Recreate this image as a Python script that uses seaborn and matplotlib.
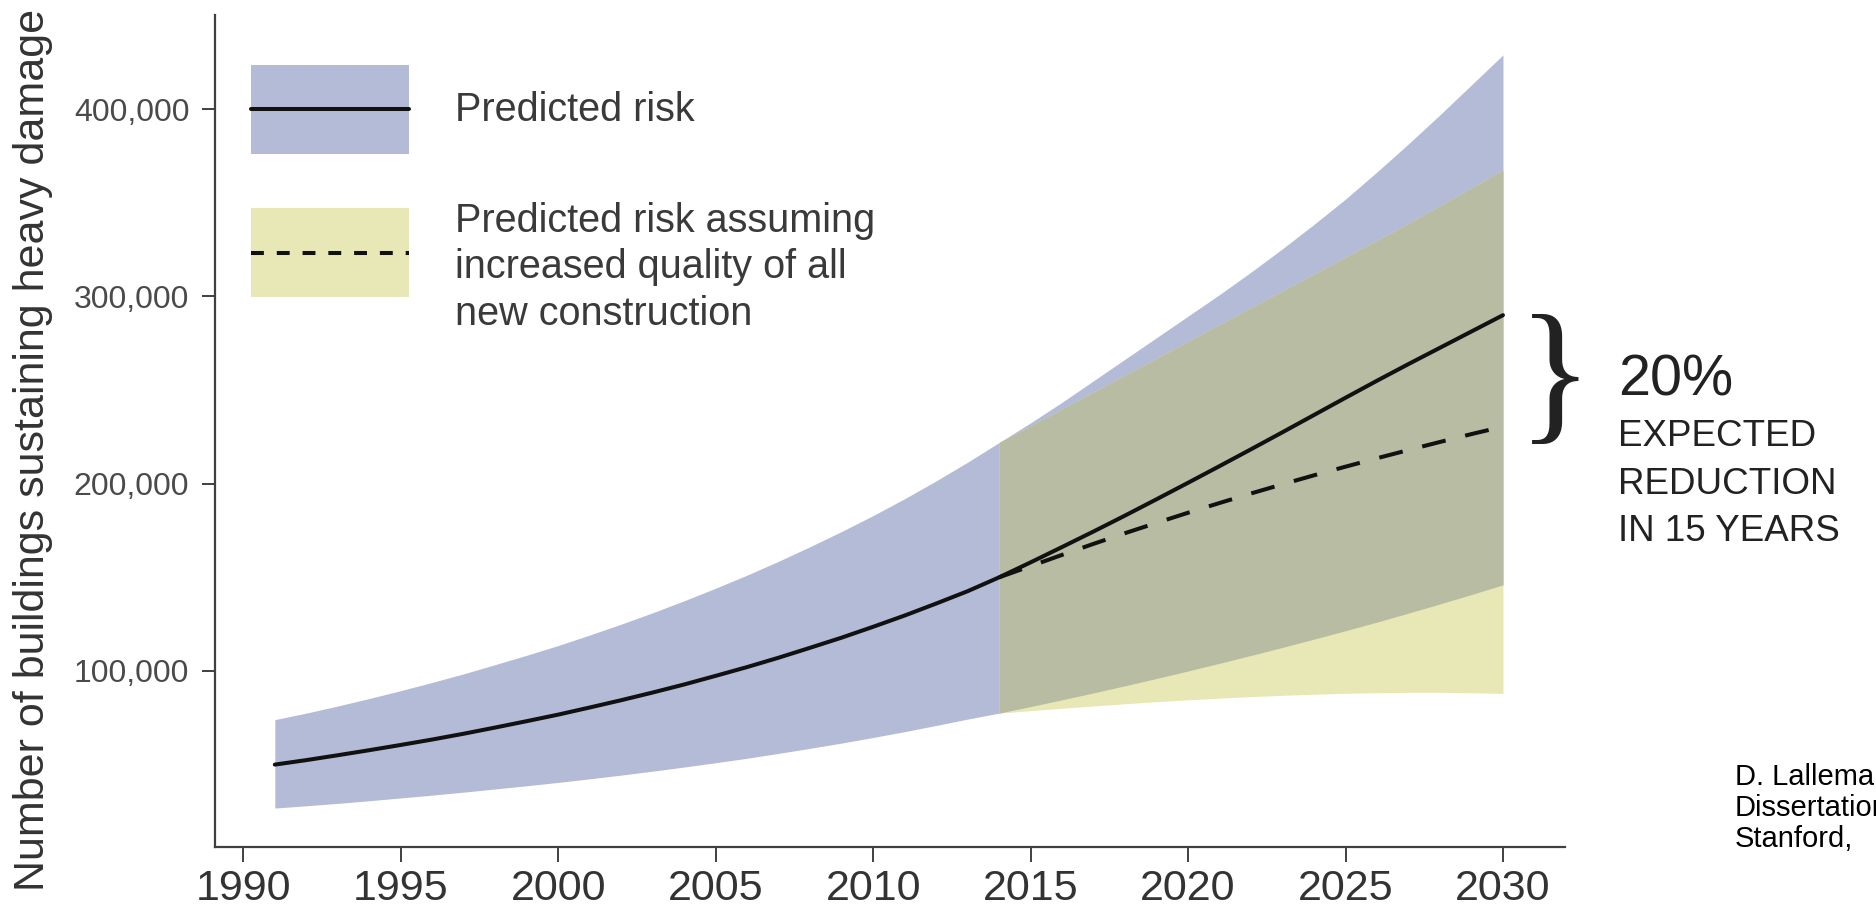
import numpy as np
import pandas as pd
import matplotlib
matplotlib.use("Agg")
import matplotlib.pyplot as plt
import seaborn as sns
from matplotlib.patches import Patch
from matplotlib.lines import Line2D
from matplotlib.legend_handler import HandlerLine2D
from matplotlib.ticker import FuncFormatter

# Predicted number of heavily damaged buildings, thousands
years = list(range(1991, 2031))
risk_mean = [50.0, 52.4, 55.0, 57.7, 60.5, 63.4, 66.5, 69.8, 73.2, 76.7,
             80.5, 84.4, 88.5, 92.8, 97.4, 102.1, 107.1, 112.4, 117.8, 123.6,
             129.6, 136.0, 142.6, 150.0, 158.0, 166.2, 174.5, 183.0, 191.7, 200.5,
             209.4, 218.4, 227.5, 236.7, 245.9, 255.0, 263.9, 272.6, 281.3, 290.0]
risk_low = [26.8, 28.0, 29.3, 30.7, 32.2, 33.7, 35.3, 37.0, 38.7, 40.5,
            42.4, 44.4, 46.5, 48.7, 51.0, 53.4, 56.0, 58.7, 61.5, 64.5,
            67.6, 70.9, 74.3, 77.5, 81.0, 84.6, 88.3, 92.1, 96.0, 100.0,
            104.1, 108.3, 112.6, 117.0, 121.5, 126.1, 130.9, 135.8, 140.8, 146.0]
risk_high = [74.0, 77.5, 81.3, 85.3, 89.5, 93.9, 98.5, 103.4, 108.4, 113.6,
             119.2, 125.0, 131.1, 137.5, 144.2, 151.2, 158.6, 166.4, 174.5, 183.0,
             192.0, 201.5, 211.5, 222.0, 232.5, 243.5, 255.0, 266.5, 278.0, 289.5,
             301.0, 313.0, 325.5, 338.5, 352.0, 366.5, 381.5, 397.0, 413.0, 429.0]

# Scenario: increased quality of all new construction, thousands
improved_years = list(range(2014, 2031))
improved_mean = [150.0, 156.0, 162.0, 167.9, 173.6, 179.1, 184.5, 189.7, 194.8,
                 199.7, 204.5, 209.1, 213.6, 218.0, 222.3, 226.5, 230.5]
improved_low = [77.5, 78.8, 80.1, 81.3, 82.5, 83.6, 84.6, 85.5, 86.3,
                87.0, 87.6, 88.1, 88.4, 88.6, 88.6, 88.4, 88.0]
improved_high = [222.0, 231.0, 240.0, 249.0, 258.0, 267.0, 276.0, 285.0, 294.0,
                 303.0, 312.0, 321.0, 330.0, 339.0, 348.5, 358.0, 367.5]

x_ticks = [1990, 1995, 2000, 2005, 2010, 2015, 2020, 2025, 2030]
y_ticks = [100000, 200000, 300000, 400000]

legend_labels = ["Predicted risk",
                 "Predicted risk assuming\nincreased quality of all\nnew construction"]

BLUE = "#B4BBD6"
YELLOW = "#E8E8B6"
OVERLAP = "#B7BCA3"
INK = "#111111"
AXIS = "#404040"

sns.set_theme(style="ticks")
plt.rcParams["font.family"] = ["Liberation Sans", "DejaVu Sans"]

risk = pd.DataFrame({
    "year": years,
    "mean": np.array(risk_mean) * 1000,
    "low": np.array(risk_low) * 1000,
    "high": np.array(risk_high) * 1000,
})
improved = pd.DataFrame({
    "year": improved_years,
    "mean": np.array(improved_mean) * 1000,
    "low": np.array(improved_low) * 1000,
    "high": np.array(improved_high) * 1000,
})

fig = plt.figure(figsize=(18.76, 9.14), dpi=100)
ax = fig.add_axes([215 / 1876, 1 - 847 / 914, 1350 / 1876, 832 / 914])

# uncertainty bands, with the shared range drawn in its own tone
ax.fill_between(risk["year"], risk["low"], risk["high"], color=BLUE, lw=0, zorder=1)
ax.fill_between(improved["year"], improved["low"], improved["high"],
                color=YELLOW, lw=0, zorder=1)
shared = risk.set_index("year").loc[improved_years]
ax.fill_between(improved["year"],
                np.maximum(shared["low"].values, improved["low"].values),
                np.minimum(shared["high"].values, improved["high"].values),
                color=OVERLAP, lw=0, zorder=2)

# central estimates
sns.lineplot(data=improved, x="year", y="mean", color=INK, lw=2.9, ax=ax, zorder=3)
ax.lines[-1].set_dashes([6, 5])
sns.lineplot(data=risk, x="year", y="mean", color=INK, lw=2.9, ax=ax, zorder=4)

ax.set_xlim(1989.1, 2031.97)
ax.set_ylim(6000, 450300)
ax.set_xticks(x_ticks)
ax.set_yticks(y_ticks)
ax.yaxis.set_major_formatter(FuncFormatter(lambda v, p: f"{v:,.0f}"))

for side in ["top", "right"]:
    ax.spines[side].set_visible(False)
for side in ["left", "bottom"]:
    ax.spines[side].set_color(AXIS)
    ax.spines[side].set_linewidth(1.6)

ax.tick_params(axis="both", colors=AXIS, width=1.4)
ax.tick_params(axis="y", length=9.5, pad=9, labelsize=23, labelcolor="#4a4a4a")
ax.tick_params(axis="x", length=10.5, pad=5.5, labelsize=31, labelcolor="#333333")

ax.set_xlabel("")
ax.set_ylabel("Number of buildings sustaining heavy damage",
              fontsize=31, color="#333333", va="center")
ax.yaxis.set_label_coords(-0.135, 0.477)


# legend: coloured band with its centre line on top
class CentredLine(HandlerLine2D):
    def create_artists(self, legend, orig_handle, xdescent, ydescent,
                       width, height, fontsize, trans):
        arts = super().create_artists(legend, orig_handle, xdescent, ydescent,
                                      width, height, fontsize, trans)
        for a in arts:
            a.set_ydata(np.asarray(a.get_ydata(), float) - ydescent / 2)
        return arts


h1 = (Patch(facecolor=BLUE, edgecolor="none"), Line2D([], [], color=INK, lw=2.9))
h2 = (Patch(facecolor=YELLOW, edgecolor="none"),
      Line2D([], [], color=INK, lw=2.9, dashes=[3.2, 3.2]))
leg = ax.legend([h1, h2], legend_labels, loc="upper left",
                bbox_to_anchor=(0.0267, 0.9399), frameon=False,
                fontsize=28.5, handlelength=3.99, handleheight=3.08,
                handletextpad=1.15, labelspacing=0.76,
                borderpad=0, borderaxespad=0,
                handler_map={Line2D: CentredLine()})
for t in leg.get_texts():
    t.set_color("#3a3a3a")
    t.set_linespacing(1.28)
# the three-line label sits a little below the centre of its swatch
leg.get_texts()[1].set_position((0, -18))

# expected reduction note
fig.text(1555 / 1876, 1 - 385 / 914, "}", family=["Liberation Serif"],
         fontsize=112, color="#222222", ha="center", va="center")
fig.text(1618 / 1876, 1 - 381 / 914, "20%",
         fontsize=41.5, color="#222222", ha="left", va="center")
fig.text(1618 / 1876, 1 - 484 / 914, "EXPECTED\nREDUCTION\nIN 15 YEARS",
         fontsize=26.5, color="#222222", ha="left", va="center", linespacing=1.45)

# source note
fig.text(1735 / 1876, 1 - 808 / 914, "D. Lallemant\nDissertation\nStanford,",
         fontsize=21, color="black", ha="left", va="center", linespacing=1.12)

fig.savefig("out.png", dpi=100)
